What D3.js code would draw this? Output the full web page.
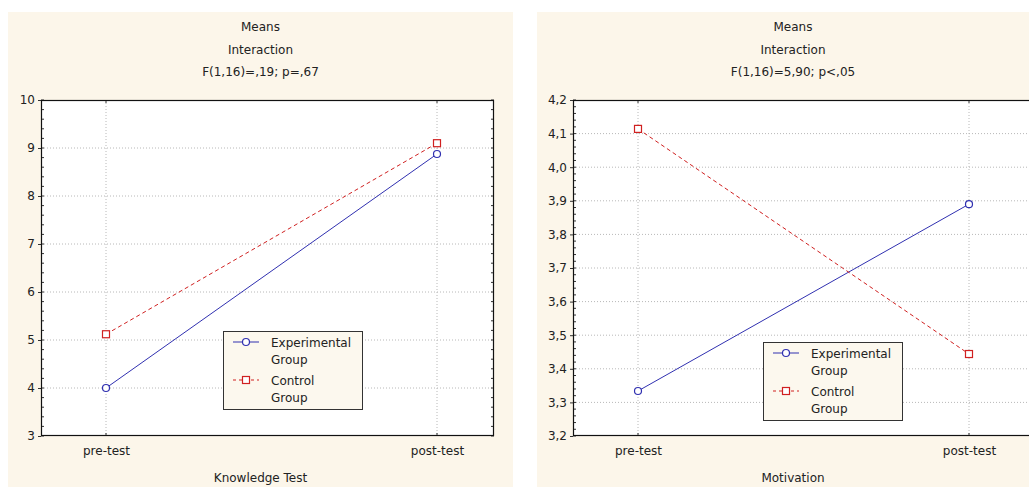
<!DOCTYPE html>
<html><head><meta charset="utf-8">
<script src="https://cdn.jsdelivr.net/npm/d3@7"></script>
<style>
html,body{margin:0;padding:0;background:#fff;}
svg{display:block;}
text{font-family:"DejaVu Sans",sans-serif;font-size:12px;fill:#222;}
</style></head>
<body>
<svg id="chart" width="1029" height="487"></svg>
<script>
const categories = ["pre-test", "post-test"];
const seriesNames = ["Experimental Group", "Control Group"];
const leftTitle = ["Means", "Interaction", "F(1,16)=,19; p=,67"];
const rightTitle = ["Means", "Interaction", "F(1,16)=5,90; p<,05"];
const leftXLabel = "Knowledge Test";
const rightXLabel = "Motivation";
const leftExperimental = [4.0, 8.875];
const leftControl = [5.12, 9.1];
const rightExperimental = [3.334, 3.89];
const rightControl = [4.114, 3.444];
const leftYTicks = [3, 4, 5, 6, 7, 8, 9, 10];
const rightYTicks = [3.2, 3.3, 3.4, 3.5, 3.6, 3.7, 3.8, 3.9, 4.0, 4.1, 4.2];

const svg = d3.select("#chart");
const fmtComma = d => d3.format(".1f")(d).replace(".", ",");

function panel(cfg) {
  const g = svg.append("g");
  g.append("rect").attr("x", cfg.bx).attr("y", 12).attr("width", cfg.bw).attr("height", 487 - 12).attr("fill", "#fcf6ea");
  const L = cfg.px, T = 100, W = cfg.pw, H = 336;
  const y = d3.scaleLinear().domain(cfg.ydom).range([T + H, T]);
  const x = d3.scalePoint().domain(categories).range([L + 65, L + 396]);
  g.append("rect").attr("x", L).attr("y", T).attr("width", W).attr("height", H).attr("fill", "#fff");
  g.append("g").selectAll("line").data(cfg.yticks.slice(1, -1)).join("line")
    .attr("x1", L).attr("x2", L + W).attr("y1", d => y(d)).attr("y2", d => y(d))
    .attr("stroke", "#b8b8b8").attr("stroke-dasharray", "1,2");
  g.append("g").selectAll("line").data(categories).join("line")
    .attr("x1", d => x(d)).attr("x2", d => x(d)).attr("y1", T).attr("y2", T + H)
    .attr("stroke", "#b8b8b8").attr("stroke-dasharray", "1,2");
  const step = (cfg.yticks[1] - cfg.yticks[0]) / 5;
  const minors = d3.range(cfg.ydom[0], cfg.ydom[1] + step / 2, step);
  g.append("g").selectAll("line").data(minors).join("line")
    .attr("x1", L).attr("x2", L + 3).attr("y1", d => y(d)).attr("y2", d => y(d))
    .attr("stroke", "#333");
  g.append("g").selectAll("line").data(minors).join("line")
    .attr("x1", L + W).attr("x2", L + W - 3).attr("y1", d => y(d)).attr("y2", d => y(d))
    .attr("stroke", "#333");
  g.append("g").selectAll("line").data(categories).join("line")
    .attr("x1", d => x(d)).attr("x2", d => x(d)).attr("y1", T + H).attr("y2", T + H - 3)
    .attr("stroke", "#333");
  g.append("g").selectAll("line").data(categories).join("line")
    .attr("x1", d => x(d)).attr("x2", d => x(d)).attr("y1", T).attr("y2", T + 3)
    .attr("stroke", "#333");
  const ya = d3.axisLeft(y).tickValues(cfg.yticks).tickSize(3).tickPadding(3).tickFormat(cfg.fmt);
  const yg = g.append("g").attr("transform", `translate(${L},0)`).call(ya);
  yg.select(".domain").remove();
  yg.selectAll(".tick line").attr("stroke", "#333");
  yg.selectAll(".tick text").style("font-size", "12px").attr("fill", "#222");
  const xa = d3.axisBottom(x).tickSize(0).tickPadding(10);
  const xg = g.append("g").attr("transform", `translate(0,${T + H})`).call(xa);
  xg.select(".domain").remove();
  xg.selectAll(".tick text").style("font-size", "12px").attr("fill", "#222");
  g.append("rect").attr("x", L + 0.5).attr("y", T + 0.5).attr("width", W - 1).attr("height", H - 1)
    .attr("fill", "none").attr("stroke", "#111").attr("stroke-width", 1.2);
  const cx = cfg.bx + cfg.bw / 2;
  g.selectAll(".title").data(cfg.title).join("text")
    .attr("x", cx).attr("y", (d, i) => 31 + i * 22.5).attr("text-anchor", "middle").text(d => d);
  g.append("text").attr("x", cx).attr("y", 482).attr("text-anchor", "middle").text(cfg.xlabel);
  const line = d3.line().x((d, i) => x(categories[i])).y(d => y(d));
  g.append("path").datum(cfg.exp).attr("d", line).attr("fill", "none").attr("stroke", "#3030b0").attr("stroke-width", 1);
  g.append("path").datum(cfg.ctl).attr("d", line).attr("fill", "none").attr("stroke", "#d02020").attr("stroke-width", 1).attr("stroke-dasharray", "4,3");
  g.append("g").selectAll("circle").data(cfg.exp).join("circle")
    .attr("cx", (d, i) => x(categories[i])).attr("cy", d => y(d)).attr("r", 3.5)
    .attr("fill", "#fff").attr("stroke", "#3030b0").attr("stroke-width", 1.2);
  g.append("g").selectAll("rect").data(cfg.ctl).join("rect")
    .attr("x", (d, i) => x(categories[i]) - 3.5).attr("y", d => y(d) - 3.5).attr("width", 7).attr("height", 7)
    .attr("fill", "#fff").attr("stroke", "#d02020").attr("stroke-width", 1.2);
  const lg = g.append("g").attr("transform", `translate(${cfg.lx},${cfg.ly})`);
  lg.append("rect").attr("x", 0.5).attr("y", 0.5).attr("width", 139).attr("height", 78)
    .attr("fill", "#fcf8ee").attr("stroke", "#333");
  lg.append("line").attr("x1", 10).attr("x2", 36).attr("y1", 11).attr("y2", 11).attr("stroke", "#3030b0");
  lg.append("circle").attr("cx", 23).attr("cy", 11).attr("r", 3.5).attr("fill", "#fff").attr("stroke", "#3030b0").attr("stroke-width", 1.2);
  lg.append("line").attr("x1", 10).attr("x2", 36).attr("y1", 49).attr("y2", 49).attr("stroke", "#d02020").attr("stroke-dasharray", "3,3");
  lg.append("rect").attr("x", 19.5).attr("y", 45.5).attr("width", 7).attr("height", 7).attr("fill", "#fff").attr("stroke", "#d02020").attr("stroke-width", 1.2);
  seriesNames.forEach((s, i) => {
    s.split(" ").forEach((p, j) => {
      lg.append("text").attr("x", 48).attr("y", 16 + i * 38 + j * 17).text(p);
    });
  });
}

panel({bx: 8, bw: 505, px: 41, pw: 453, ydom: [3, 10], yticks: leftYTicks, fmt: d3.format("d"),
  title: leftTitle, xlabel: leftXLabel, exp: leftExperimental, ctl: leftControl, lx: 223, ly: 331});
panel({bx: 537, bw: 512, px: 573, pw: 460, ydom: [3.2, 4.2], yticks: rightYTicks, fmt: fmtComma,
  title: rightTitle, xlabel: rightXLabel, exp: rightExperimental, ctl: rightControl, lx: 763, ly: 342});
</script>
</body></html>
